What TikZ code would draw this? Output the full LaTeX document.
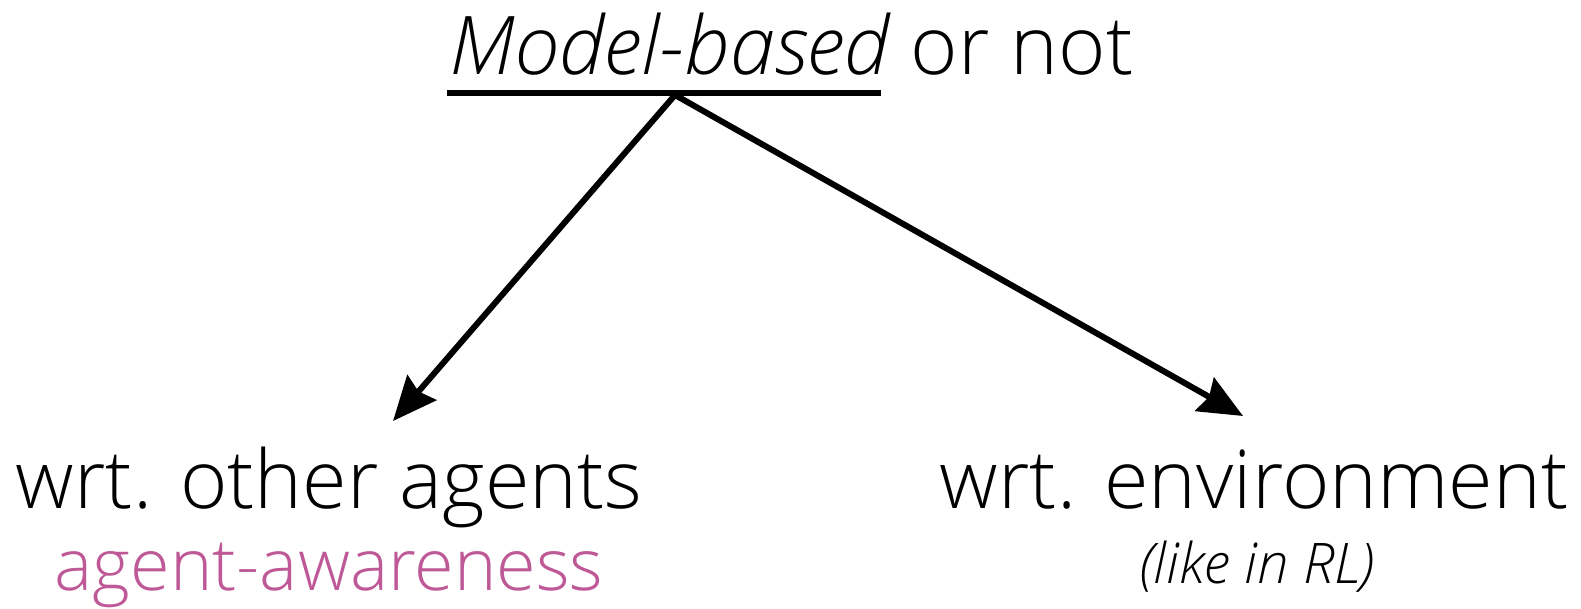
\documentclass[tikz,border=0pt]{standalone}
\usepackage{fontspec}
\IfFontExistsTF{Open Sans Light}
  {\setmainfont{Open Sans Light}[ItalicFont={Open Sans Light Italic}]}
  {\setmainfont{Open Sans}}
\usetikzlibrary{arrows.meta,calc}
\definecolor{awarepink}{RGB}{190,88,150}
\begin{document}
\begin{tikzpicture}[x=1pt,y=-1pt,
  big/.style={inner sep=0pt,font=\fontsize{81}{90}\selectfont},
  mid/.style={inner sep=0pt,font=\fontsize{72}{80}\selectfont},
  small/.style={inner sep=0pt,font=\fontsize{56}{62}\selectfont\itshape},
  branch/.style={line width=6pt,-{Stealth[length=44pt,width=38pt,inset=5pt]}}]
\useasboundingbox (0,0) rectangle (1581,608);
% heading
\node[big,anchor=base west] (mb) at (449,74) {\itshape Model-based};
\node[big,anchor=base west] (ornot) at (mb.base east) {\ or not};
\draw[line width=6pt] (447,93) coordinate (ulL) -- (881,93) coordinate (ulR);
\coordinate (root) at (675,95);
% branches
\node[big,anchor=base] (agents) at (329,508) {wrt. other agents};
\node[mid,anchor=base,text=awarepink] (aware) at (329,590) {agent-awareness};
\node[big,anchor=base] (env) at (1254,508) {wrt. environment};
\node[small,anchor=base] (rl) at (1257,583) {(like in RL)};
\coordinate (tipL) at (393,421);
\coordinate (tipR) at (1243,416);
\draw[branch] (root) -- (tipL);
\draw[branch] (root) -- (tipR);
\end{tikzpicture}
\end{document}
